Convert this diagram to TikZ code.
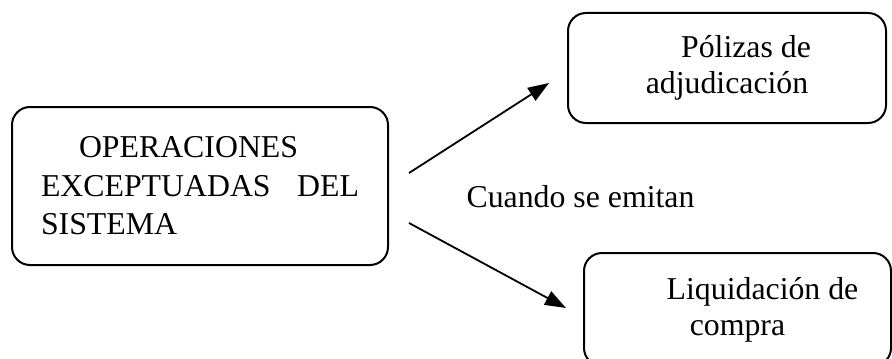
\documentclass[tikz,border=0pt]{standalone}
\usepackage{fontspec}
\setmainfont{Liberation Serif}
\usetikzlibrary{arrows.meta}

\begin{document}
\begin{tikzpicture}[x=0.5pt, y=-0.5pt,
        caja/.style={draw, line width=1pt, rounded corners=9pt, inner sep=0pt},
        flecha/.style={-{Triangle[length=10.5pt, width=7.5pt]}, line width=0.9pt},
        every node/.style={font=\fontsize{15.9}{18}\selectfont}]
        \useasboundingbox (0,0) rectangle (892,358);
        \clip (0,0) rectangle (892,358);
        \node[caja, minimum width=188pt, minimum height=79pt] (oper) at (200,186)
                {\fontsize{15.9}{19.25}\selectfont\raisebox{1.5pt}{\parbox{159pt}{\hspace*{19pt}OPERACIONES\\EXCEPTUADAS\hfill DEL\\SISTEMA}}};
        \node[caja, minimum width=159pt, minimum height=55pt, align=center] (poliza) at (727,68)
                {\hspace*{19pt}Pólizas de\\adjudicación};
        \node[caja, minimum width=153.5pt, minimum height=56.5pt, align=center] (liquida) at (737.5,309.5)
                {\hspace*{25pt}Liquidación de\\compra};
        \node[anchor=base] (cuando) at (580.5,207) {Cuando se emitan};
        % extremos libres de las flechas
        \coordinate (ini1) at ([xshift=10pt, yshift=6.5pt]oper.east);
        \coordinate (ini2) at ([xshift=10pt, yshift=-18.5pt]oper.east);
        \coordinate (fin1) at ([xshift=-9pt, yshift=-7.5pt]poliza.west);
        \coordinate (fin2) at ([xshift=-8.5pt, yshift=0.75pt]liquida.west);
        \draw[flecha] (ini1) -- (fin1);
        \draw[flecha] (ini2) -- (fin2);
\end{tikzpicture}
\end{document}
